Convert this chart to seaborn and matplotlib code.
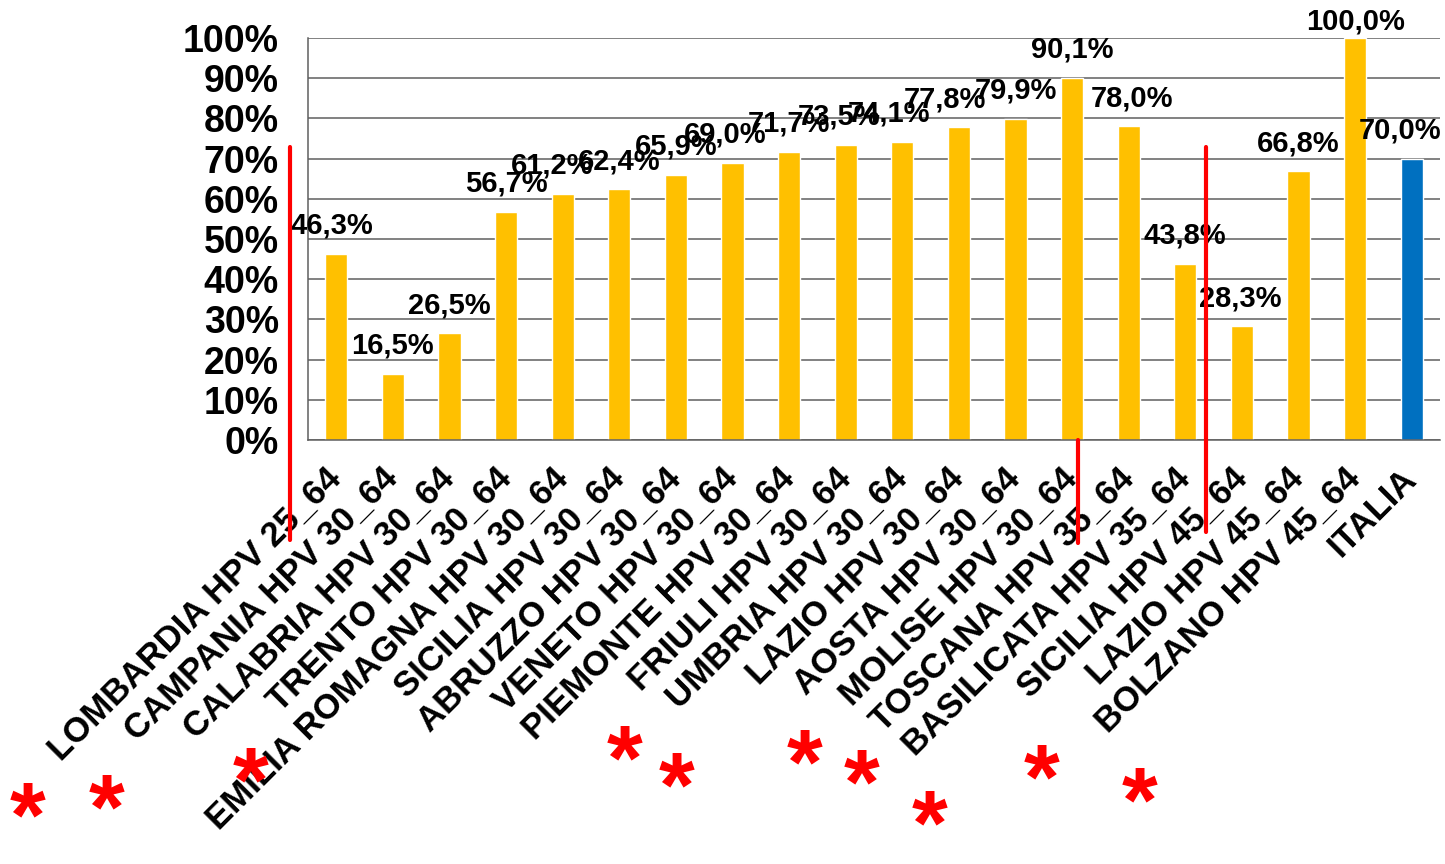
import numpy as np
import pandas as pd
import matplotlib
matplotlib.use('Agg')
import matplotlib.pyplot as plt
from matplotlib.lines import Line2D
from matplotlib.ticker import FixedLocator, FuncFormatter
import seaborn as sns

# dati
regioni = ['LOMBARDIA HPV 25_64', 'CAMPANIA HPV 30_64', 'CALABRIA HPV 30_64',
           'TRENTO HPV 30_64', 'EMILIA ROMAGNA HPV 30_64', 'SICILIA HPV 30_64',
           'ABRUZZO HPV 30_64', 'VENETO HPV 30_64', 'PIEMONTE HPV 30_64',
           'FRIULI HPV 30_64', 'UMBRIA HPV 30_64', 'LAZIO HPV 30_64',
           'AOSTA HPV 30_64', 'MOLISE HPV 30_64', 'TOSCANA HPV 35_64',
           'BASILICATA HPV 35_64', 'SICILIA HPV 45_64', 'LAZIO HPV 45_64',
           'BOLZANO HPV 45_64', 'ITALIA']
valori = [46.3, 16.5, 26.5, 56.7, 61.2, 62.4, 65.9, 69.0, 71.7, 73.5,
          74.1, 77.8, 79.9, 90.1, 78.0, 43.8, 28.3, 66.8, 100.0, 70.0]
gruppo = ['regione'] * 19 + ['italia']

# spostamento orizzontale delle etichette (px), come nell'originale
label_dx = [-4, 0, 0, 0, -11, 0, 0, -7, 0, -7, -13, -14, 0, 0, 3, 0, -2, 0, 0, -12]

df = pd.DataFrame({'regione': regioni, 'valore': valori, 'gruppo': gruppo})

sns.set_style('white')
plt.rcParams['font.family'] = ['Liberation Sans', 'DejaVu Sans']
plt.rcParams['font.weight'] = 'bold'
plt.rcParams['text.color'] = 'black'
plt.rcParams['xtick.color'] = 'black'
plt.rcParams['ytick.color'] = 'black'

fig = plt.figure(figsize=(14.45, 8.64), dpi=100)
ax = fig.add_axes([308 / 1445, 1 - 440 / 864, (1440 - 308) / 1445, (440 - 38) / 864])

sns.barplot(data=df, x='regione', y='valore', hue='gruppo',
            palette={'regione': '#FFC000', 'italia': '#0070C0'},
            width=0.39, legend=False, dodge=False, ax=ax, saturation=1)

ax.set_ylim(0, 100)
ax.set_xlim(-0.5, len(regioni) - 0.5)
ax.set_xlabel('')
ax.set_ylabel('')

# griglia e assi
ax.set_yticks(np.arange(0, 101, 10))
ax.yaxis.set_major_formatter(FuncFormatter(lambda v, p: '{:.0f}%'.format(v)))
ax.grid(axis='y', color='#5f5f5f', linewidth=1.1)
ax.set_axisbelow(True)
for s in ['top', 'right']:
    ax.spines[s].set_visible(False)
for s in ['left', 'bottom']:
    ax.spines[s].set_color('#5f5f5f')
    ax.spines[s].set_linewidth(1.1)
ax.tick_params(axis='y', direction='out', length=7, width=1.1, color='#5f5f5f',
               labelcolor='black', pad=14, labelsize=27)
ax.xaxis.set_minor_locator(FixedLocator(np.arange(-0.5, len(regioni), 1)))
ax.tick_params(axis='x', which='minor', direction='out', length=9, width=1.1, color='#5f5f5f')
ax.tick_params(axis='x', which='major', length=0, pad=24, labelcolor='black')
for t in ax.get_yticklabels():
    t.set_fontweight('bold')

ax.set_xticks(range(len(regioni)))
ax.set_xticklabels(regioni, rotation=45, ha='right', va='center',
                   rotation_mode='anchor', fontsize=25, fontweight='bold')

# etichette dei valori
for i, v in enumerate(valori):
    ytxt = min(v + 7, 104)
    ax.annotate('{:.1f}%'.format(v).replace('.', ','), xy=(i, ytxt),
                xytext=(label_dx[i] * 0.72, 0), textcoords='offset points',
                ha='center', va='center', fontsize=21, fontweight='bold',
                color='black', annotation_clip=False)

# linee rosse
linee = [(290, 147, 540), (1078, 440, 543), (1206, 147, 532)]
for x, y0, y1 in linee:
    fig.add_artist(Line2D([x / 1445, x / 1445], [1 - y0 / 864, 1 - y1 / 864],
                          color='red', linewidth=3, transform=fig.transFigure))

# asterischi rossi
asterischi = [(28, 805), (107, 797), (251, 770), (625, 748), (677, 775),
              (805, 752), (862, 772), (930, 813), (1042, 767), (1140, 790)]
for x, y in asterischi:
    fig.text(x / 1445, 1 - (y + 17) / 864, '*', color='red', fontsize=66,
             fontweight='bold', ha='center', va='center')

fig.savefig('out.png', dpi=100)
